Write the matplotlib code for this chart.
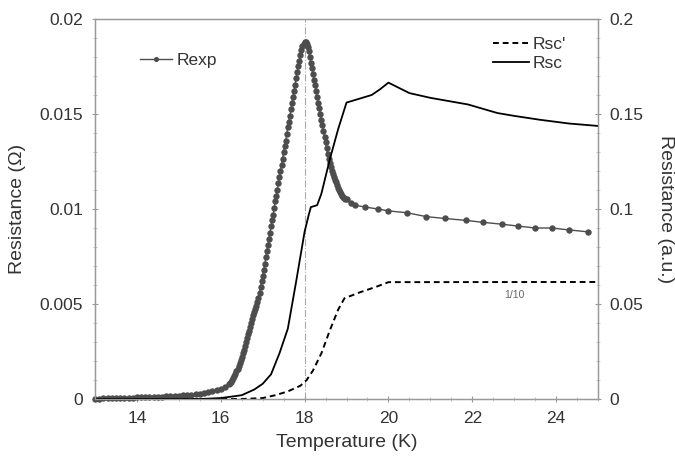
import matplotlib
matplotlib.use("Agg")
import matplotlib.pyplot as plt
from matplotlib.ticker import MultipleLocator

plt.rcParams['font.family'] = ['Liberation Sans', 'DejaVu Sans']

# measured resistance (left axis, Ohm)
t_exp = [13.0, 13.1, 13.2, 13.3, 13.4, 13.5, 13.6, 13.7, 13.8, 13.9,
         14.0, 14.1, 14.2, 14.3, 14.4, 14.5, 14.6, 14.7, 14.8, 14.9,
         15.0, 15.1, 15.2, 15.3, 15.4, 15.5, 15.6, 15.7, 15.8, 15.9,
         16.0, 16.1, 16.2, 16.225, 16.25, 16.275, 16.3, 16.325, 16.35, 16.375,
         16.4, 16.425, 16.45, 16.475, 16.5, 16.525, 16.55, 16.575, 16.6, 16.625,
         16.65, 16.675, 16.7, 16.725, 16.75, 16.775, 16.8, 16.825, 16.85, 16.875,
         16.9, 16.925, 16.95, 16.975, 17.0, 17.025, 17.05, 17.075, 17.1, 17.125,
         17.15, 17.175, 17.2, 17.225, 17.25, 17.275, 17.3, 17.325, 17.35, 17.375,
         17.4, 17.425, 17.45, 17.475, 17.5, 17.525, 17.55, 17.575, 17.6, 17.625,
         17.65, 17.675, 17.7, 17.725, 17.75, 17.775, 17.8, 17.825, 17.85, 17.875,
         17.9, 17.925, 17.95, 17.975, 18.0, 18.025, 18.05, 18.075, 18.1, 18.125,
         18.15, 18.175, 18.2, 18.225, 18.25, 18.275, 18.3, 18.325, 18.35, 18.375,
         18.4, 18.425, 18.45, 18.475, 18.5, 18.525, 18.55, 18.575, 18.6, 18.625,
         18.65, 18.675, 18.7, 18.725, 18.75, 18.775, 18.8, 18.825, 18.85, 18.875,
         18.9, 18.925, 18.95, 18.975, 19.0, 19.1, 19.2, 19.45, 19.75, 20.0,
         20.45, 20.9, 21.35, 21.85, 22.25, 22.7, 23.1, 23.5, 23.9, 24.3,
         24.75]
r_exp = [0.00002, 0.00002, 0.00003, 0.00003, 0.00004, 0.00005, 0.00005, 0.00006, 0.00007, 0.00007,
         0.00008, 0.00009, 0.00010, 0.00010, 0.00011, 0.00012, 0.00013, 0.00014, 0.00015, 0.00016,
         0.00018, 0.00019, 0.00021, 0.00023, 0.00025, 0.00028, 0.00031, 0.00035, 0.00040, 0.00046,
         0.00054, 0.00064, 0.00078, 0.00084, 0.00092, 0.0010, 0.0011, 0.0012, 0.0013, 0.00145,
         0.0016, 0.00175, 0.0019, 0.00205, 0.0022, 0.0024, 0.0026, 0.0028, 0.0030, 0.0032,
         0.0034, 0.0036, 0.0038, 0.0040, 0.0042, 0.0044, 0.0046, 0.00475, 0.0049, 0.0051,
         0.0053, 0.0056, 0.0059, 0.0062, 0.0065, 0.0068, 0.0071, 0.00745, 0.0078, 0.0081,
         0.0084, 0.00875, 0.0091, 0.0094, 0.0097, 0.01005, 0.0104, 0.0107, 0.0110, 0.01135,
         0.0117, 0.0120, 0.0123, 0.01265, 0.0130, 0.0133, 0.0136, 0.01395, 0.0143, 0.0146,
         0.0149, 0.01525, 0.0156, 0.0159, 0.0162, 0.01655, 0.0169, 0.0172, 0.0175, 0.0178,
         0.0181, 0.01835, 0.0186, 0.0187, 0.0188, 0.0188, 0.0187, 0.0185, 0.0183, 0.0180,
         0.0177, 0.0174, 0.0171, 0.0168, 0.0165, 0.0162, 0.0159, 0.0156, 0.0153, 0.0150,
         0.0147, 0.0144, 0.0141, 0.0138, 0.0135, 0.0132, 0.0129, 0.01265, 0.0124, 0.0122,
         0.0120, 0.01185, 0.0117, 0.01155, 0.0114, 0.01125, 0.0111, 0.0110, 0.0109, 0.0108,
         0.0107, 0.01065, 0.0106, 0.01055, 0.0105, 0.0103, 0.0102, 0.0101, 0.0100, 0.0099,
         0.0098, 0.0096, 0.0095, 0.0094, 0.0093, 0.0092, 0.0091, 0.0090, 0.0090, 0.0089,
         0.0088]

# simulated Rsc (right axis, a.u.)
t_sc = [13.0, 15.5, 16.0, 16.5, 16.8, 17.0, 17.2, 17.4, 17.6, 17.8,
        18.0, 18.1, 18.15, 18.3, 18.4, 18.6, 18.8, 19.0, 19.3, 19.6,
        19.8, 20.0, 20.5, 21.0, 21.9, 22.6, 23.0, 23.6, 24.3, 25.0]
r_sc = [0.0, 0.0, 0.0005, 0.002, 0.005, 0.008, 0.013, 0.024, 0.037, 0.062,
        0.088, 0.097, 0.101, 0.102, 0.108, 0.126, 0.142, 0.156, 0.158, 0.160,
        0.163, 0.1665, 0.161, 0.1585, 0.155, 0.1505, 0.149, 0.147, 0.145, 0.1437]

# simulated Rsc' (right axis, scaled 1/10)
t_sc2 = [13.0, 16.5, 17.0, 17.3, 17.6, 17.9, 18.05, 18.2, 18.4, 18.6,
         18.8, 18.95, 19.3, 19.7, 20.0, 25.0]
r_sc2 = [0.0, 0.0, 0.0005, 0.002, 0.004, 0.007, 0.010, 0.015, 0.024, 0.036,
         0.047, 0.053, 0.056, 0.059, 0.0615, 0.0616]

grey = '#999999'
txt = '#333333'

fig = plt.figure(figsize=(6.75, 4.63), dpi=100)
ax = fig.add_axes([0.1407, 0.1382, 0.7453, 0.8208])
ax2 = ax.twinx()

ax.axvline(18.0, color='#aaaaaa', lw=0.8, ls='-.', zorder=0)

ax.plot(t_exp, r_exp, color='#4d4d4d', lw=1, marker='o', markersize=4.6,
        markeredgewidth=0, label='Rexp', zorder=3, clip_on=False)
ax2.plot(t_sc2, r_sc2, color='black', lw=1.4, ls=(0, (3, 2)), label="Rsc'")
ax2.plot(t_sc, r_sc, color='black', lw=1.3, label='Rsc')

ax.set_xlim(13, 25)
ax.set_ylim(0, 0.02)
ax2.set_ylim(0, 0.2)

ax.set_xticks([14, 16, 18, 20, 22, 24])
ax.xaxis.set_minor_locator(MultipleLocator(0.5))
ax.set_yticks([0, 0.005, 0.01, 0.015, 0.02])
ax.set_yticklabels(['0', '0.005', '0.01', '0.015', '0.02'])
ax.yaxis.set_minor_locator(MultipleLocator(0.001))
ax2.set_yticks([0, 0.05, 0.1, 0.15, 0.2])
ax2.set_yticklabels(['0', '0.05', '0.1', '0.15', '0.2'])
ax2.yaxis.set_minor_locator(MultipleLocator(0.01))

for a in (ax, ax2):
    for s in a.spines.values():
        s.set_color(grey)
        s.set_linewidth(0.9)
    a.tick_params(which='major', direction='inout', length=5, width=0.8,
                  color=grey, labelcolor=txt, labelsize=12.5, pad=6)
    a.tick_params(which='minor', direction='inout', length=3, width=0.6, color='#bbbbbb')

ax.set_xlabel('Temperature (K)', fontsize=14, color=txt, labelpad=6)
ax.set_ylabel('Resistance (Ω)', fontsize=14, color=txt, labelpad=10)
ax2.set_ylabel('Resistance (a.u.)', fontsize=14, color=txt, rotation=270, labelpad=22)

ax2.text(23.0, 0.055, '1/10', fontsize=7.5, color='#666666', ha='center', va='center')

leg1 = ax.legend(loc='center left', bbox_to_anchor=(0.089, 0.892), frameon=False,
                 fontsize=12.5, handlelength=1.85, handletextpad=0.3, borderpad=0,
                 borderaxespad=0, numpoints=1, markerscale=0.8, labelcolor=txt)
leg2 = ax2.legend(loc='upper left', bbox_to_anchor=(0.791, 0.952), frameon=False,
                  fontsize=12.5, handlelength=2.1, handletextpad=0.2, borderpad=0,
                  borderaxespad=0, labelspacing=0.2, labelcolor=txt)

fig.savefig('out.png', dpi=100)
